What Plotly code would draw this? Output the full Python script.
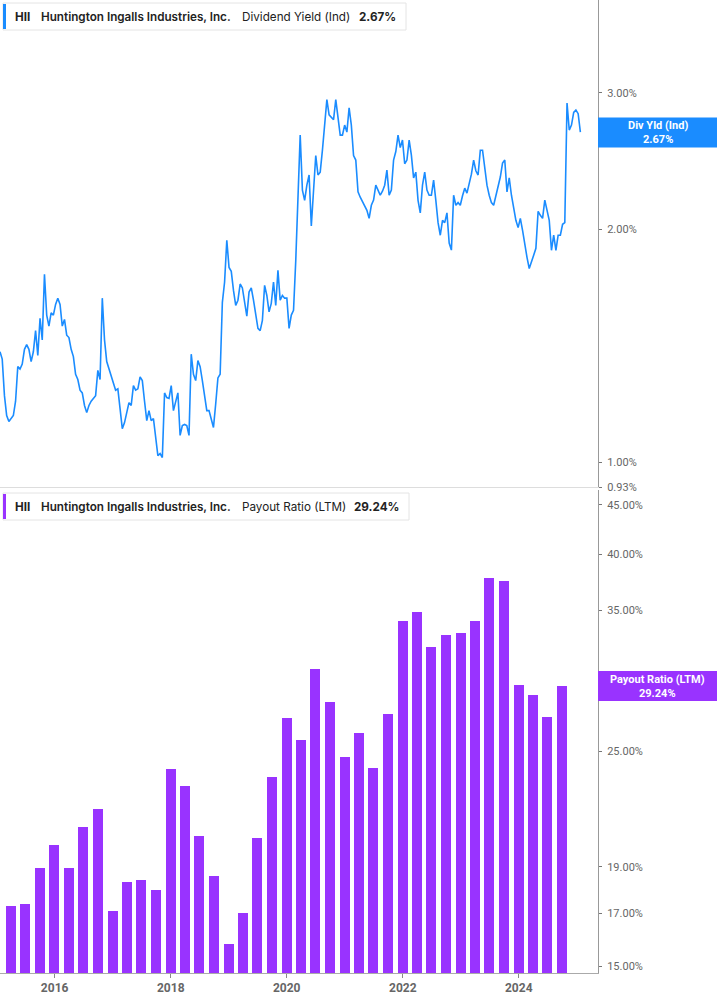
import math
import pandas as pd
import plotly.graph_objects as go

# ---------------- data ----------------
ticker = "HII"
company = "Huntington Ingalls Industries, Inc."
yield_label = "Dividend Yield (Ind)"
payout_label = "Payout Ratio (LTM)"
yield_last = 2.67
payout_last = 29.24

# Dividend yield (%), sampled every 14 days from 2015-01-22
yield_start = "2015-01-22"
yield_values = [
    1.39, 1.36, 1.22, 1.15, 1.13, 1.14, 1.15, 1.20, 1.33, 1.32,
    1.34, 1.40, 1.42, 1.40, 1.35, 1.39, 1.48, 1.375, 1.535, 1.44,
    1.75, 1.55, 1.50, 1.56, 1.55, 1.60, 1.63, 1.60, 1.50, 1.53,
    1.46, 1.45, 1.40, 1.37, 1.30, 1.28, 1.24, 1.23, 1.185, 1.16,
    1.185, 1.20, 1.21, 1.22, 1.315, 1.28, 1.63, 1.44, 1.35, 1.32,
    1.295, 1.265, 1.24, 1.245, 1.167, 1.106, 1.126, 1.167, 1.195, 1.185,
    1.257, 1.24, 1.245, 1.29, 1.276, 1.20, 1.133, 1.167, 1.133, 1.14,
    1.068, 1.021, 1.027, 1.015, 1.23, 1.213, 1.21, 1.257, 1.167, 1.20,
    1.23, 1.084, 1.116, 1.12, 1.116, 1.084, 1.38, 1.30, 1.276, 1.354,
    1.33, 1.276, 1.22, 1.167, 1.167, 1.14, 1.11, 1.19, 1.286, 1.30,
    1.61, 1.71, 1.936, 1.786, 1.765, 1.668, 1.595, 1.62, 1.70, 1.68,
    1.62, 1.545, 1.66, 1.68, 1.62, 1.55, 1.49, 1.48, 1.526, 1.693,
    1.643, 1.565, 1.605, 1.71, 1.595, 1.77, 1.62, 1.643, 1.63, 1.63,
    1.49, 1.55, 1.572, 1.82, 2.28, 2.646, 2.247, 2.18, 2.28, 2.35,
    2.02, 2.25, 2.49, 2.35, 2.37, 2.53, 2.70, 2.94, 2.81, 2.79,
    2.77, 2.94, 2.79, 2.646, 2.646, 2.726, 2.67, 2.87, 2.726, 2.49,
    2.457, 2.235, 2.20, 2.17, 2.14, 2.116, 2.066, 2.148, 2.181, 2.28,
    2.247, 2.213, 2.24, 2.28, 2.384, 2.213, 2.247, 2.457, 2.52, 2.646,
    2.55, 2.607, 2.43, 2.457, 2.607, 2.493, 2.33, 2.37, 2.18, 2.10,
    2.28, 2.37, 2.247, 2.213, 2.213, 2.315, 2.18, 2.04, 1.965, 2.054,
    2.04, 2.10, 1.92, 1.88, 2.213, 2.148, 2.165, 2.148, 2.21, 2.26,
    2.227, 2.29, 2.356, 2.457, 2.38, 2.35, 2.53, 2.53, 2.384, 2.28,
    2.213, 2.165, 2.148, 2.213, 2.265, 2.336, 2.435, 2.457, 2.235, 2.33,
    2.213, 2.14, 2.054, 2.01, 2.066, 1.994, 1.907, 1.84, 1.78, 1.81,
    1.851, 1.89, 2.11, 2.085, 2.066, 2.181, 2.116, 2.054, 1.879, 1.965,
    1.879, 1.965, 1.965, 2.03, 2.04, 2.91, 2.686, 2.726, 2.83, 2.85,
    2.82, 2.67,
]

# Payout ratio (LTM, %), quarterly (quarter ends 2015Q1 .. 2024Q3)
payout_quarters = [f"{y}-{md}" for y in range(2015, 2025)
                   for md in ("03-31", "06-30", "09-30", "12-31")][:39]
payout_values = [
    17.31, 17.39, 18.95, 20.02, 18.95, 20.90, 21.82, 17.10, 18.33, 18.42,
    17.97, 23.99, 23.04, 20.45, 18.59, 15.81, 17.02, 20.35, 23.53, 27.09,
    25.71, 30.45, 28.14, 24.69, 26.15, 24.05, 27.35, 34.14, 34.89, 32.09,
    33.02, 33.18, 34.14, 37.82, 37.55, 29.31, 28.62, 27.16, 29.24,
]

top_ticks = [0.93, 1, 2, 3]
bottom_ticks = [15, 17, 19, 25, 30, 35, 40, 45]
year_ticks = ["2016-01-01", "2018-01-01", "2020-01-01", "2022-01-01", "2024-01-01"]
year_labels = ["2016", "2018", "2020", "2022", "2024"]

# ---------------- styling ----------------
W, H = 717, 1005
ML, MR, MT, MB = 0, 119, 0, 32
PW, PH = W - ML - MR, H - MT - MB
BLUE = "#1a8cff"
PURPLE = "#9933ff"
AXIS_FONT = dict(family="Roboto, Arial, sans-serif", size=11, color="#666666")


def px(xp):
    return (xp - ML) / PW


def py(yp):
    return 1 - (yp - MT) / PH


yield_dates = pd.date_range(yield_start, periods=len(yield_values), freq="14D")

fig = go.Figure()
fig.add_trace(go.Scatter(
    x=yield_dates, y=yield_values, mode="lines",
    line=dict(color=BLUE, width=1.6), xaxis="x", yaxis="y",
    hoverinfo="skip", showlegend=False,
))
fig.add_trace(go.Bar(
    x=pd.to_datetime(payout_quarters), y=payout_values,
    marker=dict(color=PURPLE, line=dict(width=0)),
    width=63 * 86400000, xaxis="x2", yaxis="y2",
    hoverinfo="skip", showlegend=False,
))

xrange = ["2015-01-22", "2025-05-14"]
fig.update_layout(
    width=W, height=H,
    margin=dict(l=ML, r=MR, t=MT, b=MB, pad=0),
    paper_bgcolor="white", plot_bgcolor="white",
    showlegend=False, bargap=0,
    xaxis=dict(domain=[0, 1], anchor="y", type="date", range=xrange,
               showticklabels=False, showgrid=False, zeroline=False,
               showline=True, linecolor="#dddddd", linewidth=1, ticks=""),
    xaxis2=dict(domain=[0, 1], anchor="y2", type="date", range=xrange,
                matches="x", showgrid=False, zeroline=False,
                showline=True, linecolor="#aaaaaa", linewidth=1,
                ticks="outside", ticklen=4, tickcolor="#888888",
                tickvals=year_ticks, ticktext=[f"<b>{t}</b>" for t in year_labels],
                tickfont=dict(family="Roboto, Arial, sans-serif", size=12, color="#666666")),
    yaxis=dict(domain=[py(487), 1], anchor="x", type="log", side="right",
               range=[math.log10(0.93), math.log10(3.953)],
               tickvals=top_ticks, ticktext=[f"{v:.2f}%" for v in top_ticks],
               showgrid=False, zeroline=False, showline=True,
               linecolor="#999999", linewidth=1, ticks="outside", ticklen=3,
               tickcolor="#777777", tickfont=AXIS_FONT, ticklabelstandoff=3),
    yaxis2=dict(domain=[0, py(490)], anchor="x2", type="log", side="right",
                range=[math.log10(14.76), math.log10(46.6)],
                tickvals=bottom_ticks, ticktext=[f"{v:.2f}%" for v in bottom_ticks],
                showgrid=False, zeroline=False, showline=True,
                linecolor="#999999", linewidth=1, ticks="outside", ticklen=3,
                tickcolor="#777777", tickfont=AXIS_FONT, ticklabelstandoff=3),
)

shapes = []
annotations = []

LEG_FONT = "Inter, 'Noto Sans', sans-serif"


def legend_box(y0, x1, color, metric, value, xm, xv):
    shapes.append(dict(type="rect", xref="paper", yref="paper",
                       x0=px(3), x1=px(x1), y0=py(y0), y1=py(y0 + 27),
                       fillcolor="white", line=dict(color="#e4e4e4", width=1), layer="above"))
    shapes.append(dict(type="rect", xref="paper", yref="paper",
                       x0=px(3), x1=px(6), y0=py(y0 + 1), y1=py(y0 + 26),
                       fillcolor=color, line=dict(width=0), layer="above"))
    yc = py(y0 + 13.5)
    items = [
        (13, ticker, 700),
        (39, company, 600),
        (xm, metric, 400),
        (xv, value, 700),
    ]
    for xx, txt, wt in items:
        annotations.append(dict(
            xref="paper", yref="paper", x=px(xx), y=yc, xanchor="left", yanchor="middle",
            text=txt, showarrow=False,
            font=dict(family=LEG_FONT, size=11.7, color="#222222", weight=wt)))


legend_box(3, 406, BLUE, yield_label, f"{yield_last:.2f}%", 240, 357)
legend_box(493, 409, PURPLE, payout_label, f"{payout_last:.2f}%", 240, 352)


def badge(yc, color, label, value):
    shapes.append(dict(type="rect", xref="paper", yref="paper",
                       x0=px(598), x1=px(717), y0=py(yc - 15), y1=py(yc + 15),
                       fillcolor=color, line=dict(width=0), layer="above"))
    annotations.append(dict(
        xref="paper", yref="paper", x=px(657.5), y=py(yc), xanchor="center", yanchor="middle",
        text=f"<b>{label}</b><br><b>{value}</b>", showarrow=False,
        font=dict(family="Roboto, Arial, sans-serif", size=11, color="white")))


badge(132.5, BLUE, "Div Yld (Ind)", f"{yield_last:.2f}%")
badge(686, PURPLE, "Payout Ratio (LTM)", f"{payout_last:.2f}%")

fig.update_layout(shapes=shapes, annotations=annotations)
fig.write_html("out.html", config={"displayModeBar": False},
               post_script="document.body.style.margin='0';document.body.style.overflow='hidden';")
